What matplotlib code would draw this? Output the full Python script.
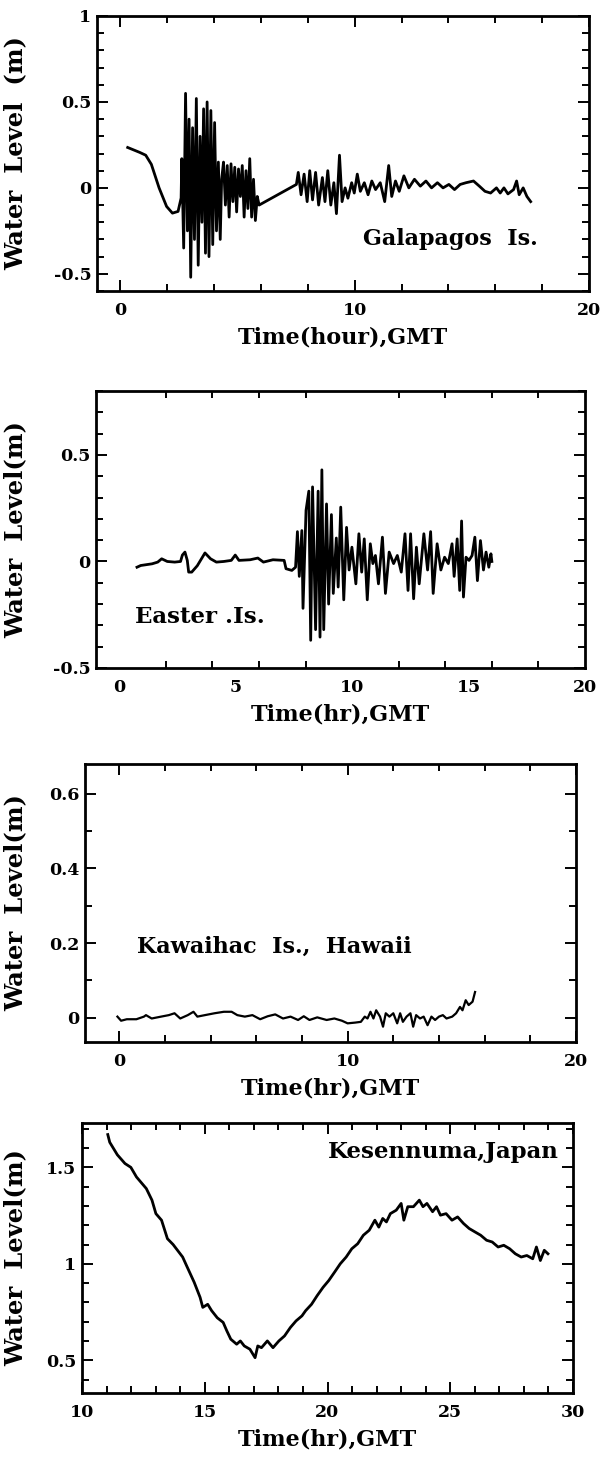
import matplotlib
matplotlib.use("Agg")
import matplotlib.pyplot as plt
from matplotlib.ticker import MultipleLocator, FixedLocator, FuncFormatter

plt.rcParams['font.family'] = ['DejaVu Serif']
plt.rcParams['font.weight'] = 'bold'
plt.rcParams['axes.unicode_minus'] = False

# --- Galapagos Is. (time in hours GMT, level in m) ---
galapagos_t = [0.31, 0.83, 1.08, 1.32, 1.65, 1.97, 2.22, 2.46, 2.59,
               2.62, 2.70, 2.78, 2.86, 2.93, 3.00, 3.08, 3.16, 3.24, 3.32,
               3.40, 3.48, 3.55, 3.63, 3.70, 3.78, 3.86, 3.94, 4.02, 4.10,
               4.18, 4.26, 4.32, 4.40, 4.48, 4.56, 4.64, 4.72, 4.80, 4.88,
               4.96, 5.04, 5.12, 5.20, 5.28, 5.36, 5.44, 5.52, 5.60, 5.68,
               5.76, 5.84, 5.92, 7.51, 7.59, 7.71, 7.84, 7.97, 8.08, 8.20,
               8.33, 8.46, 8.62, 8.73, 8.85, 8.98, 9.11, 9.22, 9.35, 9.46,
               9.59, 9.71, 9.87, 9.98, 10.11, 10.24, 10.41, 10.57, 10.73,
               10.89, 11.09, 11.28, 11.45, 11.58, 11.74, 11.90, 12.10, 12.31,
               12.55, 12.80, 13.04, 13.28, 13.53, 13.77, 14.02, 14.26, 14.50,
               14.75, 15.07, 15.32, 15.56, 15.80, 16.05, 16.21, 16.37, 16.54,
               16.78, 16.91, 17.02, 17.19, 17.35, 17.51]
galapagos_h = [0.235, 0.206, 0.19, 0.137, 0.0, -0.108, -0.147, -0.137, -0.059,
               0.17, -0.35, 0.55, -0.25, 0.40, -0.52, 0.35, -0.30, 0.52, -0.45,
               0.30, -0.20, 0.46, -0.38, 0.50, -0.40, 0.45, -0.33, 0.38, -0.25,
               0.15, -0.30, 0.05, 0.15, -0.10, 0.13, -0.17, 0.14, -0.08, 0.12,
               -0.14, 0.11, -0.05, 0.13, -0.17, 0.10, -0.12, 0.17, -0.17, 0.05,
               -0.19, -0.05, -0.10, 0.02, 0.09, -0.04, 0.08, -0.08, 0.10, -0.07,
               0.09, -0.10, 0.06, -0.08, 0.10, -0.10, 0.03, -0.15, 0.19, -0.08,
               0.0, -0.06, 0.03, -0.03, 0.08, -0.02, 0.03, -0.04, 0.04,
               -0.01, 0.03, -0.08, 0.13, -0.05, 0.04, -0.02, 0.07, 0.0,
               0.05, 0.01, 0.04, 0.0, 0.03, 0.0, 0.02, -0.01, 0.02,
               0.03, 0.04, 0.01, -0.02, -0.03, 0.0, -0.03, 0.0, -0.035,
               -0.01, 0.04, -0.04, 0.0, -0.05, -0.08]

# --- Easter Is. ---
easter_t = [0.76, 0.92, 1.41, 1.65, 1.82, 2.06, 2.38, 2.63, 2.71, 2.82, 2.92,
            2.98, 3.11, 3.35, 3.68, 3.92, 4.17, 4.49, 4.81, 4.98, 5.14, 5.62,
            5.95, 6.19, 6.60, 7.08, 7.16, 7.41, 7.57,
            7.65, 7.73, 7.84, 7.89, 8.02, 8.14, 8.22, 8.30, 8.43, 8.54, 8.62,
            8.70, 8.78, 8.90, 8.99, 9.11, 9.19, 9.32, 9.40, 9.51, 9.64, 9.76,
            9.87, 9.99, 10.16, 10.29, 10.41, 10.52, 10.65, 10.78, 10.89, 11.00,
            11.13, 11.30, 11.43, 11.59, 11.78, 11.94, 12.11, 12.27, 12.40,
            12.51, 12.64, 12.76, 12.88, 13.08, 13.24, 13.37, 13.48, 13.65,
            13.81, 13.97, 14.13, 14.29, 14.38, 14.51, 14.62, 14.70, 14.78,
            14.89, 15.02, 15.15, 15.27, 15.38, 15.51, 15.64, 15.75, 15.87,
            15.96, 16.00]
easter_h = [-0.027, -0.019, -0.011, -0.003, 0.0125, 0.0, -0.003, 0.0, 0.03,
            0.044, 0.005, -0.05, -0.05, -0.02, 0.04, 0.0125, -0.003, 0.0,
            0.005, 0.03, 0.005, 0.008, 0.016, -0.003, 0.008, 0.005, -0.034,
            -0.042, -0.027,
            0.14, -0.07, 0.145, -0.22, 0.24, 0.33, -0.37, 0.35, -0.32, 0.33,
            -0.355, 0.43, -0.32, 0.27, -0.20, 0.22, -0.15, 0.11, -0.12, 0.255,
            -0.18, 0.16, -0.04, 0.067, -0.105, 0.13, -0.05, 0.106, -0.18,
            0.083, -0.01, 0.028, -0.105, 0.114, -0.15, 0.044, -0.01, 0.028,
            -0.05, 0.13, -0.136, 0.13, -0.175, 0.067, -0.105, 0.13, -0.04,
            0.14, -0.15, 0.083, -0.04, 0.02, -0.01, 0.083, -0.07, 0.106,
            -0.136, 0.19, -0.167, 0.02, 0.005, 0.028, 0.114, -0.09, 0.098,
            -0.04, 0.044, -0.027, 0.036, 0.0]

# --- Kawaihae, Hawaii ---
hawaii_t = [-0.08, 0.08, 0.33, 0.75, 1.08, 1.17, 1.42, 1.83, 2.17, 2.42, 2.67,
            3.0, 3.25, 3.42, 3.75, 4.17, 4.58, 4.92, 5.17, 5.5, 5.83, 6.17,
            6.5, 6.83, 7.17, 7.5, 7.83, 8.08, 8.33, 8.67, 9.08, 9.42, 9.75,
            10.0, 10.33, 10.58, 10.75, 10.87, 11.0, 11.13, 11.25, 11.42, 11.55,
            11.67, 11.83, 12.0, 12.17, 12.3, 12.42, 12.58, 12.75, 12.87, 13.0,
            13.17, 13.33, 13.5, 13.67, 13.83, 14.0, 14.17, 14.33, 14.58, 14.75,
            14.92, 15.03, 15.17, 15.3, 15.47, 15.58]
hawaii_h = [0.003, -0.008, -0.004, -0.004, 0.003, 0.007, -0.002, 0.003, 0.007,
            0.012, -0.002, 0.007, 0.016, 0.003, 0.007, 0.012, 0.016, 0.016,
            0.007, 0.003, 0.007, -0.004, 0.004, 0.009, -0.002, 0.003, -0.006,
            0.004, -0.006, 0.001, -0.006, -0.002, -0.008, -0.015, -0.013,
            -0.011, 0.003, -0.002, 0.016, -0.002, 0.02, 0.003, -0.024, 0.012,
            0.003, 0.012, -0.015, 0.012, -0.011, 0.003, 0.012, -0.024, 0.007,
            -0.002, 0.003, -0.02, 0.003, -0.006, 0.003, 0.007, -0.002, 0.003,
            0.012, 0.029, 0.02, 0.047, 0.034, 0.043, 0.069]

# --- Kesennuma, Japan ---
kesen_t = [11.05, 11.13, 11.44, 11.75, 11.99, 12.22, 12.62, 12.85, 13.01,
           13.24, 13.48, 13.71, 13.95, 14.10, 14.26, 14.57, 14.81, 14.92,
           15.12, 15.28, 15.51, 15.75, 15.90, 16.06, 16.30, 16.45, 16.61,
           16.84, 17.05, 17.16, 17.31, 17.55, 17.78, 18.02, 18.25, 18.49,
           18.72, 18.96, 19.11, 19.35, 19.58, 19.82, 20.05, 20.29, 20.52,
           20.76, 20.99, 21.23, 21.46, 21.70, 21.93, 22.09, 22.25, 22.40,
           22.56, 22.80, 23.00, 23.11, 23.27, 23.50, 23.74, 23.89, 24.05,
           24.28, 24.44, 24.60, 24.83, 25.07, 25.30, 25.54, 25.77, 26.01,
           26.24, 26.48, 26.71, 26.95, 27.18, 27.42, 27.65, 27.89, 28.12,
           28.36, 28.51, 28.67, 28.83, 28.98]
kesen_h = [1.67, 1.63, 1.565, 1.52, 1.50, 1.45, 1.39, 1.33, 1.26, 1.226, 1.13,
           1.10, 1.06, 1.035, 0.99, 0.904, 0.826, 0.774, 0.79, 0.757, 0.72,
           0.696, 0.652, 0.609, 0.583, 0.60, 0.574, 0.557, 0.513, 0.574,
           0.565, 0.60, 0.565, 0.60, 0.626, 0.67, 0.704, 0.73, 0.757, 0.79,
           0.835, 0.878, 0.913, 0.957, 1.0, 1.035, 1.078, 1.104, 1.148, 1.174,
           1.226, 1.19, 1.235, 1.217, 1.26, 1.278, 1.313, 1.226, 1.296, 1.296,
           1.33, 1.296, 1.313, 1.27, 1.296, 1.252, 1.26, 1.226, 1.243, 1.209,
           1.183, 1.165, 1.148, 1.122, 1.113, 1.087, 1.096, 1.078, 1.052,
           1.035, 1.043, 1.026, 1.087, 1.017, 1.07, 1.052]

W, H = 600, 1457
fig = plt.figure(figsize=(W / 100, H / 100), dpi=100)


def box(l, r, t, b):
    return [l / W, 1 - b / H, (r - l) / W, (b - t) / H]


def style(ax, left, right, xmaj, xmin, ymaj, ymin, xlabel, ylabel):
    ax.xaxis.set_major_locator(FixedLocator(xmaj))
    ax.xaxis.set_minor_locator(FixedLocator(xmin))
    ax.yaxis.set_major_locator(MultipleLocator(ymaj))
    ax.yaxis.set_minor_locator(MultipleLocator(ymin))
    ax.yaxis.set_major_formatter(FuncFormatter(lambda v, p: f"{v:g}" if abs(v) > 1e-9 else "0"))
    ax.tick_params(which='both', direction='in', top=True, right=True,
                   width=1.4, labelsize=12.5)
    ax.tick_params(axis='x', pad=8)
    ax.tick_params(axis='y', pad=4)
    ax.tick_params(which='major', length=8)
    ax.tick_params(which='minor', length=5)
    for s in ax.spines.values():
        s.set_linewidth(2)
    ax.set_xlabel(xlabel, fontsize=16, fontweight='bold', labelpad=5)
    ax.set_ylabel(ylabel, fontsize=17.5, fontweight='bold')
    ax.yaxis.set_label_coords((27 - left) / (right - left), 0.5)


# panel 1
ax1 = fig.add_axes(box(97, 589, 16, 291))
ax1.plot(galapagos_t, galapagos_h, color='black', lw=2)
ax1.set_xlim(-1, 20)
ax1.set_ylim(-0.6, 1.0)
style(ax1, 97, 589, [0, 10, 20], list(range(0, 21, 2)), 0.5, 0.1,
      'Time(hour),GMT', 'Water  Level  (m)')
ax1.text(17.8, -0.3, 'Galapagos  Is.', fontsize=16, fontweight='bold',
         ha='right', va='center')

# panel 2
ax2 = fig.add_axes(box(96, 585, 391, 668))
ax2.plot(easter_t, easter_h, color='black', lw=2)
ax2.set_xlim(-1, 20)
ax2.set_ylim(-0.5, 0.8)
style(ax2, 96, 585, [0, 5, 10, 15, 20], list(range(0, 21, 2)), 0.5, 0.1,
      'Time(hr),GMT', 'Water  Level(m)')
ax2.tick_params(axis='x', which='major', length=0, pad=8)
ax2.text(0.68, -0.26, 'Easter .Is.', fontsize=16.5, fontweight='bold',
         ha='left', va='center')

# panel 3
ax3 = fig.add_axes(box(85, 576, 764, 1042))
ax3.plot(hawaii_t, hawaii_h, color='black', lw=1.6)
ax3.set_xlim(-1.5, 20)
ax3.set_ylim(-0.065, 0.68)
style(ax3, 85, 576, [0, 10, 20], list(range(0, 21, 2)), 0.2, 0.1,
      'Time(hr),GMT', 'Water  Level(m)')
ax3.text(0.76, 0.19, 'Kawaihac  Is.,  Hawaii', fontsize=16, fontweight='bold',
         ha='left', va='center')

# panel 4
ax4 = fig.add_axes(box(82, 573, 1123, 1393))
ax4.plot(kesen_t, kesen_h, color='black', lw=2)
ax4.set_xlim(10, 30)
ax4.set_ylim(0.33, 1.73)
style(ax4, 82, 573, [10, 15, 20, 25, 30], list(range(10, 31)), 0.5, 0.1,
      'Time(hr),GMT', 'Water  Level(m)')
ax4.text(29.4, 1.58, 'Kesennuma,Japan', fontsize=16.5, fontweight='bold',
         ha='right', va='center')

fig.savefig('out.png', dpi=100)
